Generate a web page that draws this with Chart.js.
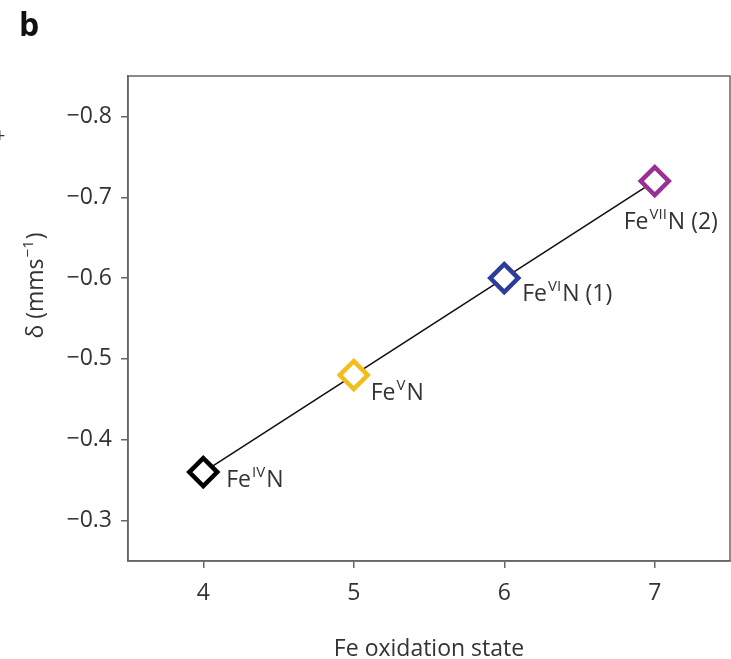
<!DOCTYPE html>
<html>
<head>
<meta charset="utf-8">
<script src="https://cdn.jsdelivr.net/npm/chart.js@4/dist/chart.umd.min.js"></script>
<style>
  body { margin: 0; background: #fff; }
  canvas { display: block; }
</style>
</head>
<body>
<canvas id="chart" width="731" height="659"></canvas>
<script>
// data
const oxStates = [4, 5, 6, 7];
const delta = [-0.36, -0.48, -0.60, -0.72];
const pointColors = ['#000000', '#f2bd1d', '#2b3c99', '#9a2f95'];
const labelSup = ['IV', 'V', 'VI', 'VII'];
const labelTail = ['N', 'N', 'N (1)', 'N (2)'];
const xTicks = [4, 5, 6, 7];
const yTicks = [-0.8, -0.7, -0.6, -0.5, -0.4, -0.3];

// label placement relative to each point (dx, dy to baseline)
const labelOffsets = [[23, 15], [17, 25], [18, 23], [-31, 48]];

const frameColor = '#666';
const textColor = '#333';
const fontFamily = '"Open Sans", Inter, sans-serif';
const fontSize = 23;
const supSize = 15;

const points = oxStates.map((x, i) => ({ x: x, y: delta[i] }));

// text with a raised part: base + sup + tail
function drawSupText(ctx, x, y, base, sup, tail) {
  ctx.font = fontSize + 'px ' + fontFamily;
  ctx.fillText(base, x, y);
  x += ctx.measureText(base).width + 1;
  ctx.font = supSize + 'px ' + fontFamily;
  ctx.fillText(sup, x, y - 10);
  x += ctx.measureText(sup).width + 1;
  ctx.font = fontSize + 'px ' + fontFamily;
  ctx.fillText(tail, x, y);
}

function supTextWidth(ctx, base, sup, tail) {
  ctx.font = fontSize + 'px ' + fontFamily;
  let w = ctx.measureText(base).width + ctx.measureText(tail).width + 2;
  ctx.font = supSize + 'px ' + fontFamily;
  return w + ctx.measureText(sup).width;
}

const extras = {
  id: 'extras',
  afterDraw(chart) {
    const { ctx, chartArea: a, scales } = chart;
    ctx.save();
    // frame around the plot
    ctx.strokeStyle = frameColor;
    ctx.lineWidth = 1.5;
    ctx.strokeRect(a.left, a.top, a.right - a.left, a.bottom - a.top);

    // point labels with superscripts
    ctx.fillStyle = textColor;
    ctx.textBaseline = 'alphabetic';
    ctx.textAlign = 'left';
    oxStates.forEach((x, i) => {
      const px = scales.x.getPixelForValue(x) + labelOffsets[i][0];
      const py = scales.y.getPixelForValue(delta[i]) + labelOffsets[i][1];
      drawSupText(ctx, px, py, 'Fe', labelSup[i], labelTail[i]);
    });

    // y axis title, rotated
    ctx.save();
    ctx.translate(43, (a.top + a.bottom) / 2 - 33);
    ctx.rotate(-Math.PI / 2);
    const w = supTextWidth(ctx, '\u03b4 (mms', '\u22121', ')');
    drawSupText(ctx, -w / 2, 0, '\u03b4 (mms', '\u22121', ')');
    ctx.restore();

    // panel letter
    ctx.fillStyle = '#111';
    ctx.font = 'bold 32px ' + fontFamily;
    ctx.fillText('b', 19, 36);
    // cut-off mark from the neighbouring panel
    ctx.fillStyle = textColor;
    ctx.font = '20px ' + fontFamily;
    ctx.fillText('+', -6, 142);
    ctx.restore();
  }
};

new Chart(document.getElementById('chart'), {
  type: 'scatter',
  data: {
    datasets: [{
      data: points,
      showLine: true,
      borderColor: '#111',
      borderWidth: 1.6,
      pointStyle: 'rectRot',
      pointRadius: 14,
      pointHoverRadius: 14,
      pointBorderWidth: 4.5,
      pointBorderColor: pointColors,
      pointBackgroundColor: '#ffffff',
      clip: false
    }]
  },
  options: {
    responsive: false,
    animation: false,
    events: [],
    layout: { autoPadding: false, padding: { top: 76, right: 1, left: 0, bottom: 0 } },
    plugins: {
      legend: { display: false },
      tooltip: { enabled: false }
    },
    scales: {
      x: {
        type: 'linear',
        min: 3.5,
        max: 7.5,
        afterFit: s => { s.height = 98; s.paddingLeft = 0; s.paddingRight = 0; },
        afterBuildTicks: s => { s.ticks = xTicks.map(v => ({ value: v })); },
        grid: { drawOnChartArea: false, tickLength: 7, color: frameColor, lineWidth: 1.5 },
        border: { color: frameColor, width: 1.5 },
        ticks: { color: textColor, font: { size: fontSize, family: fontFamily }, padding: 12 },
        title: {
          display: true,
          text: 'Fe oxidation state',
          color: textColor,
          font: { size: fontSize, family: fontFamily, lineHeight: 0.8 },
          padding: { top: 0, bottom: 0 }
        }
      },
      y: {
        type: 'linear',
        min: -0.85,
        max: -0.25,
        reverse: true,
        afterFit: s => { s.width = 128; },
        afterBuildTicks: s => { s.ticks = yTicks.map(v => ({ value: v })); },
        grid: { drawOnChartArea: false, tickLength: 7, color: frameColor, lineWidth: 1.5 },
        border: { color: frameColor, width: 1.5 },
        ticks: {
          color: textColor,
          font: { size: fontSize, family: fontFamily },
          padding: 9,
          callback: v => '\u2212' + Math.abs(v).toFixed(1)
        }
      }
    }
  },
  plugins: [extras]
});
</script>
</body>
</html>
